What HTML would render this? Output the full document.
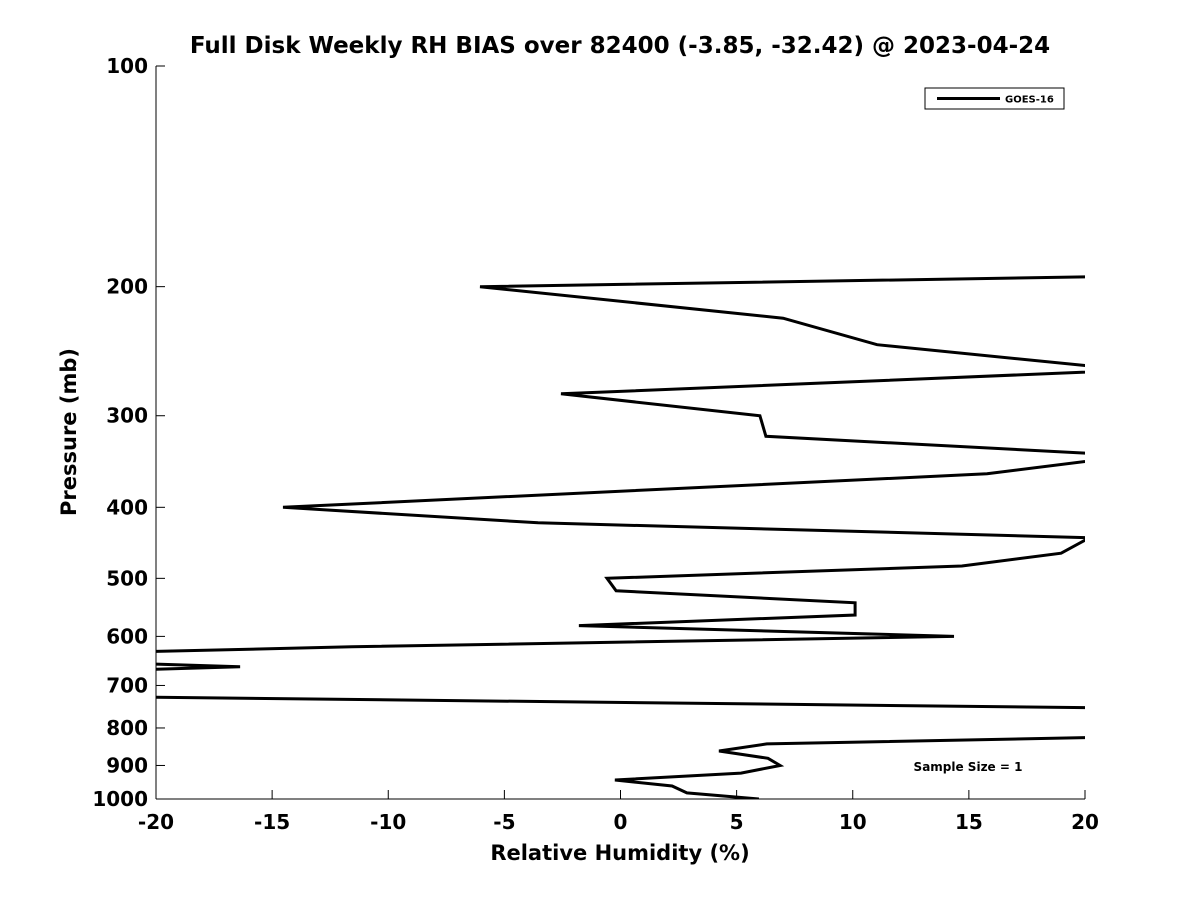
<!DOCTYPE html>
<html><head><meta charset="utf-8"><style>
body{margin:0;background:#fff}
svg{display:block;font-family:"DejaVu Sans","Liberation Sans",sans-serif;font-weight:bold}
</style></head><body>
<svg id="chart" width="1200" height="900" viewBox="0 0 1200 900">
<defs><clipPath id="plotclip"><rect x="156" y="66" width="929" height="733"/></clipPath></defs>
<text x="620" y="53" text-anchor="middle" font-size="23">Full Disk Weekly RH BIAS over 82400 (-3.85, -32.42) @ 2023-04-24</text>
<g id="axes"></g>
<g id="series" clip-path="url(#plotclip)"></g>
<text x="620" y="860" text-anchor="middle" font-size="21">Relative Humidity (%)</text>
<text transform="translate(76,432) rotate(-90)" text-anchor="middle" font-size="21">Pressure (mb)</text>
<g>
<rect x="925" y="88" width="139" height="21" fill="#fff" stroke="#000" stroke-width="1"/>
<line x1="937" y1="98.5" x2="1000" y2="98.5" stroke="#000" stroke-width="3"/>
<text x="1005" y="102.5" font-size="10">GOES-16</text>
</g>
<text x="968" y="771" text-anchor="middle" font-size="12">Sample Size = 1</text>
</svg>
<script>
const xTicks=[-20,-15,-10,-5,0,5,10,15,20];
const yTicks=[100,200,300,400,500,600,700,800,900,1000];
const rhValues=[25,-6.05,7.0,11.05,22,-2.56,6.0,6.26,22,15.78,-14.53,-3.55,20.2,18.97,14.7,-0.58,-0.19,10.1,10.1,-1.79,14.36,-11.56,-30,-16.38,-30,-20.5,20.5,20.5,6.3,4.24,6.35,6.87,5.19,-0.24,2.22,2.86,5.96];
const pressures=[192.8,200,220.8,240,260,280,300,320,340,360,400,420,440,462,481,500,520,540,561,580,600,620,640,660,680,726,751,824,841,860,880,900,922,942,960,981,1000];
const NS="http://www.w3.org/2000/svg";
const X0=156,X1=1085,Y0=66,Y1=799;
function xs(v){return X0+(v-(-20))/40*(X1-X0);}
function ys(p){return Y0+Math.log10(p/100)*(Y1-Y0);}
function mk(t,a,parent){const e=document.createElementNS(NS,t);for(const k in a)e.setAttribute(k,a[k]);parent.appendChild(e);return e;}
const axes=document.getElementById('axes');
let ax=mk('line',{x1:X0,y1:Y0,x2:X0,y2:Y1,stroke:'#000','stroke-width':1},axes);


let bx=mk('line',{x1:X0,y1:Y1,x2:X1,y2:Y1,stroke:'#000','stroke-width':1},axes);


xTicks.forEach(v=>{
 const x=xs(v);
 mk('line',{x1:x,y1:Y1,x2:x,y2:Y1-9,stroke:'#000'},axes);
 const t=mk('text',{x:x,y:829,'text-anchor':'middle','font-size':20},axes);
 
 
 t.textContent=v;
});
yTicks.forEach(p=>{
 const y=ys(p);
 mk('line',{x1:X0,y1:y,x2:X0+9,y2:y,stroke:'#000'},axes);
 const t=mk('text',{x:148,y:y+7,'text-anchor':'end','font-size':20},axes);
 
 
 t.textContent=p;
});
const pts=rhValues.map((v,i)=>xs(v).toFixed(1)+','+ys(pressures[i]).toFixed(1)).join(' ');
const line=mk('polyline',{points:pts,fill:'none',stroke:'#000','stroke-width':3,'stroke-linejoin':'miter'},document.getElementById('series'));


</script>
</body></html>
